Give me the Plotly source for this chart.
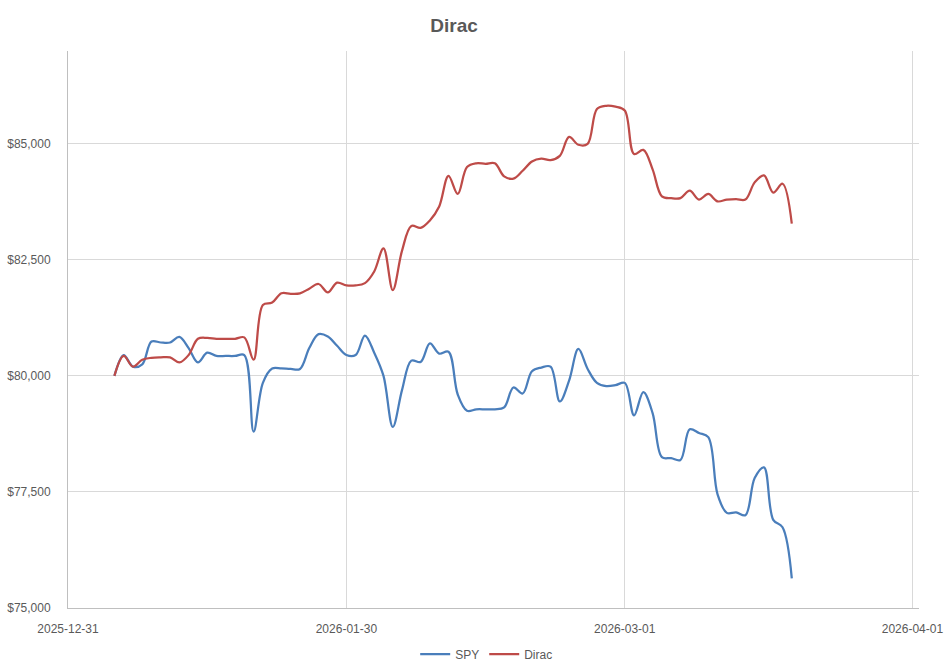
import pandas as pd
import plotly.graph_objects as go

# daily values from 2026-01-05 to 2026-03-19
dates = pd.date_range("2026-01-05", "2026-03-19", freq="D")

spy = [80000, 80450, 80200, 80250, 80740, 80720, 80720, 80840, 80600, 80290,
       80500, 80430, 80430, 80430, 80450, 78800, 79850, 80160, 80160, 80150,
       80150, 80600, 80900, 80850, 80650, 80450, 80450, 80870, 80500, 80000,
       78900, 79700, 80330, 80300, 80700, 80480, 80520, 79600, 79250, 79280,
       79280, 79280, 79320, 79750, 79620, 80100, 80180, 80200, 79450, 79900,
       80580, 80150, 79850, 79780, 79800, 79850, 79150, 79650, 79200, 78250,
       78230, 78190, 78850, 78770, 78680, 77450, 77050, 77060, 77000, 77800,
       78030, 76900, 76740, 75640]

dirac = [80000, 80430, 80200, 80350, 80390, 80400, 80400, 80290, 80450, 80800,
         80820, 80800, 80800, 80800, 80830, 80350, 81530, 81580, 81780, 81770,
         81780, 81880, 81980, 81800, 82010, 81950, 81950, 82000, 82250, 82750,
         81850, 82700, 83230, 83190, 83350, 83650, 84310, 83920, 84500, 84580,
         84570, 84580, 84300, 84250, 84420, 84620, 84680, 84650, 84740, 85150,
         84980, 85000, 85750, 85820, 85800, 85720, 84780, 84870, 84450, 83870,
         83830, 83830, 83990, 83800, 83920, 83760, 83800, 83810, 83800, 84170,
         84320, 83950, 84140, 83280]

x_ticks = ["2025-12-31", "2026-01-30", "2026-03-01", "2026-04-01"]
y_ticks = [75000, 77500, 80000, 82500, 85000]
y_labels = ["$75,000", "$77,500", "$80,000", "$82,500", "$85,000"]

fig = go.Figure()
fig.add_trace(go.Scatter(x=dates, y=spy, name="SPY", mode="lines",
                         line=dict(color="#4A7EBB", width=2.25, shape="spline")))
fig.add_trace(go.Scatter(x=dates, y=dirac, name="Dirac", mode="lines",
                         line=dict(color="#BE4B48", width=2.25, shape="spline")))

fig.update_xaxes(type="date", range=["2025-12-31", "2026-04-01 17:00"],
                 tickvals=x_ticks, ticktext=x_ticks, automargin=False,
                 showgrid=True, gridcolor="#D9D9D9", gridwidth=1,
                 showline=True, linecolor="#BFBFBF", linewidth=1,
                 ticks="outside", ticklen=0, ticklabelstandoff=10,
                 tickfont=dict(size=12, color="#595959"), zeroline=False)
fig.update_yaxes(range=[75000, 87000], tickvals=y_ticks, ticktext=y_labels,
                 automargin=False,
                 showgrid=True, gridcolor="#D9D9D9", gridwidth=1,
                 showline=True, linecolor="#BFBFBF", linewidth=1,
                 ticks="outside", ticklen=0, ticklabelstandoff=14,
                 tickfont=dict(size=12, color="#595959"), zeroline=False)

fig.update_layout(
    width=952, height=669,
    margin=dict(l=68, r=33, t=51, b=61, autoexpand=False),
    plot_bgcolor="white", paper_bgcolor="white",
    font=dict(family="Liberation Sans Narrow, Liberation Sans, Arial", color="#595959"),
    title=dict(text="<b>Dirac</b>", x=454 / 952, xanchor="center", y=0.962, yanchor="middle",
               font=dict(size=19, color="#595959", family="Liberation Sans, Arial")),
    legend=dict(orientation="h", x=0.492, xanchor="center", y=-0.083, yanchor="middle",
                font=dict(size=12, color="#595959")),
    showlegend=True,
)

fig.write_html("out.html", config={"displayModeBar": False},
               post_script="document.body.style.margin='0px';")
